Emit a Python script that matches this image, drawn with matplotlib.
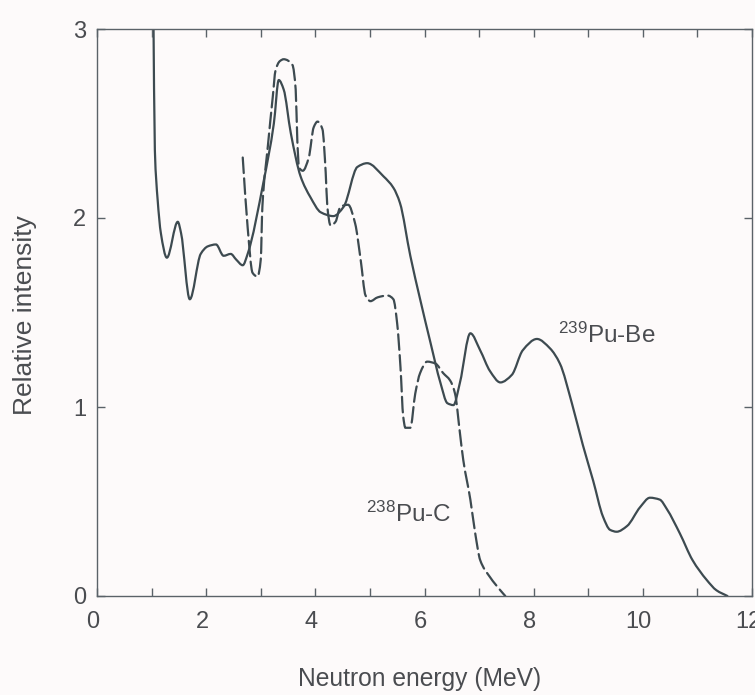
import matplotlib
matplotlib.use("Agg")
import matplotlib.pyplot as plt
import numpy as np
from matplotlib.path import Path
from matplotlib.patches import PathPatch
from matplotlib.ticker import MultipleLocator
from matplotlib.transforms import ScaledTranslation

# ---- data ----
pube_energy = [1.03, 1.06, 1.11, 1.17, 1.28, 1.48, 1.54, 1.70, 1.90, 2.03, 2.18, 2.32,
               2.45, 2.55, 2.67, 2.76, 3.05, 3.24, 3.33, 3.42, 3.55, 3.73, 3.91, 4.10,
               4.33, 4.52, 4.77, 4.95, 5.25, 5.43, 5.55, 5.74, 5.92, 6.11, 6.29, 6.42,
               6.53, 6.65, 6.84, 7.02, 7.20, 7.39, 7.60, 7.80, 8.06, 8.30, 8.48, 8.70,
               8.90, 9.09, 9.27, 9.40, 9.52, 9.71, 9.95, 10.13, 10.31, 10.44, 10.68,
               10.91, 11.17, 11.35, 11.55]
pube_intensity = [3.20, 2.36, 2.10, 1.92, 1.79, 1.98, 1.92, 1.57, 1.81, 1.85, 1.86, 1.80,
                  1.81, 1.78, 1.75, 1.81, 2.19, 2.50, 2.73, 2.68, 2.45, 2.22, 2.11, 2.03,
                  2.01, 2.06, 2.27, 2.29, 2.22, 2.16, 2.08, 1.80, 1.57, 1.34, 1.13, 1.02,
                  1.01, 1.13, 1.39, 1.30, 1.19, 1.13, 1.17, 1.30, 1.36, 1.31, 1.23, 1.02,
                  0.80, 0.61, 0.42, 0.35, 0.34, 0.37, 0.47, 0.52, 0.51, 0.46, 0.33,
                  0.19, 0.085, 0.03, 0.0]

puc_energy = [2.67, 2.76, 2.85, 2.94, 3.00, 3.03, 3.13, 3.22, 3.27, 3.35, 3.42, 3.58,
              3.64, 3.67, 3.70, 3.77, 3.88, 3.97, 4.04, 4.13, 4.19, 4.22, 4.28, 4.37,
              4.46, 4.60, 4.73, 4.83, 4.92, 5.01, 5.14, 5.32, 5.43, 5.50, 5.56, 5.61,
              5.65, 5.74, 5.83, 5.92, 6.05, 6.20, 6.34, 6.47, 6.56, 6.65, 6.71, 6.84,
              6.93, 7.02, 7.20, 7.39, 7.48]
puc_intensity = [2.32, 1.95, 1.71, 1.69, 1.78, 2.06, 2.38, 2.64, 2.78, 2.83, 2.84, 2.81,
                 2.68, 2.41, 2.27, 2.25, 2.32, 2.48, 2.51, 2.47, 2.24, 2.06, 1.96, 1.98,
                 2.06, 2.07, 1.97, 1.78, 1.59, 1.56, 1.58, 1.59, 1.57, 1.44, 1.21, 0.95,
                 0.89, 0.89, 1.07, 1.18, 1.24, 1.23, 1.18, 1.14, 1.07, 0.86, 0.72, 0.51,
                 0.33, 0.19, 0.10, 0.03, 0.0]

x_ticks = [0, 2, 4, 6, 8, 10, 12]
y_ticks = [0, 1, 2, 3]
label_pube = "$^{239}$Pu-Be"
label_puc = "$^{238}$Pu-C"

# ---- style ----
FONT = ["Liberation Sans", "DejaVu Sans"]
plt.rcParams["font.family"] = FONT
plt.rcParams["mathtext.fontset"] = "custom"
plt.rcParams["mathtext.rm"] = "Liberation Sans"
plt.rcParams["mathtext.default"] = "regular"

line_col = "#3d4a50"
text_col = "#4a4c50"
spine_col = "#5a6268"
bg = "#fdfafa"


def smooth_path(xs, ys):
    """Cubic Bezier path through the read points, with shape-preserving
    (PCHIP) slopes so the curve never overshoots the read values."""
    x = np.asarray(xs, float)
    y = np.asarray(ys, float)
    n = len(x)
    h = np.diff(x)
    d = np.diff(y) / h
    m = np.zeros(n)
    for k in range(1, n - 1):
        if d[k - 1] * d[k] > 0:
            w1 = 2 * h[k] + h[k - 1]
            w2 = h[k] + 2 * h[k - 1]
            m[k] = (w1 + w2) / (w1 / d[k - 1] + w2 / d[k])
    m[0] = d[0]
    m[-1] = d[-1]
    verts = [(x[0], y[0])]
    codes = [Path.MOVETO]
    for k in range(n - 1):
        verts += [(x[k] + h[k] / 3, y[k] + m[k] * h[k] / 3),
                  (x[k + 1] - h[k] / 3, y[k + 1] - m[k + 1] * h[k] / 3),
                  (x[k + 1], y[k + 1])]
        codes += [Path.CURVE4] * 3
    return Path(verts, codes)


fig = plt.figure(figsize=(7.55, 6.95), dpi=100, facecolor=bg)
ax = fig.add_axes([97 / 755, 1 - 596 / 695, (752 - 97) / 755, (596 - 29) / 695])
ax.set_facecolor(bg)

ax.add_patch(PathPatch(smooth_path(pube_energy, pube_intensity), fill=False,
                       edgecolor=line_col, lw=1.6, joinstyle="round", capstyle="round"))
ax.add_patch(PathPatch(smooth_path(puc_energy, puc_intensity), fill=False,
                       edgecolor=line_col, lw=1.6, linestyle=(0, (7, 2.4)),
                       capstyle="round"))

ax.set_xlim(0, 12)
ax.set_ylim(0, 3)
ax.set_xticks(x_ticks)
ax.set_yticks(y_ticks)
ax.xaxis.set_minor_locator(MultipleLocator(1))

for s in ax.spines.values():
    s.set_color(spine_col)
    s.set_linewidth(1.0)

ax.tick_params(axis="both", which="both", direction="in", length=6, width=1.0,
               color=spine_col, top=True, right=True, labelcolor=text_col,
               labelsize=17)
ax.tick_params(axis="x", which="major", pad=11)
ax.tick_params(axis="y", which="major", pad=8)

shift = ScaledTranslation(-0.04, 0, fig.dpi_scale_trans)
for lab in ax.get_xticklabels():
    lab.set_transform(lab.get_transform() + shift)

ax.set_xlabel("Neutron energy (MeV)", fontsize=17.7, color=text_col)
ax.set_ylabel("Relative intensity", fontsize=19, color=text_col)
ax.xaxis.set_label_coords(0.492, -0.126)
ax.yaxis.set_label_coords(-0.092, 0.496)

ax.text(8.45, 1.34, label_pube, fontsize=17.5, color=text_col, ha="left", va="baseline")
ax.text(4.93, 0.39, label_puc, fontsize=17.5, color=text_col, ha="left", va="baseline")

fig.savefig("out.png", dpi=100, facecolor=bg)
